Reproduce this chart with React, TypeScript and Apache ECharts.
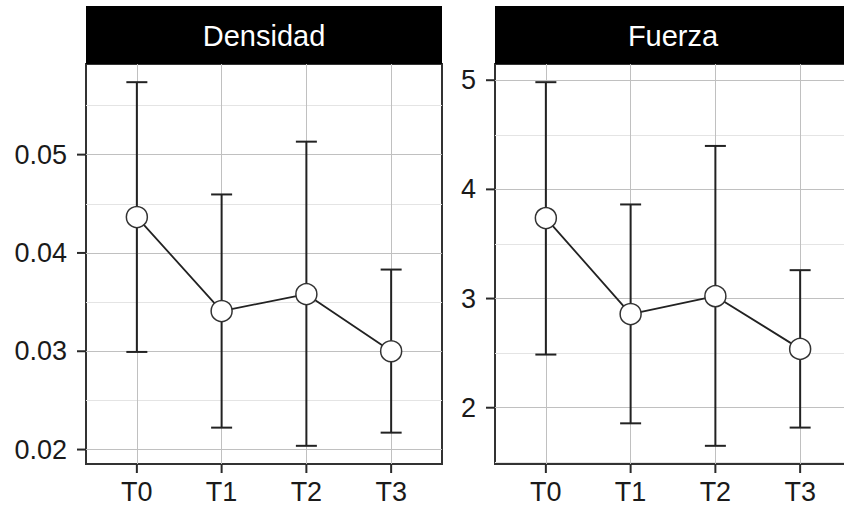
import React, { useEffect, useRef } from "react";
import * as echarts from "echarts";

const categories = ["T0", "T1", "T2", "T3"];
const panelTitles = ["Densidad", "Fuerza"];

const densidadMean = [0.04365, 0.03409, 0.03581, 0.03];
const densidadLower = [0.02993, 0.02223, 0.02038, 0.02172];
const densidadUpper = [0.05737, 0.04595, 0.05132, 0.03831];
const densidadTicks = [0.02, 0.03, 0.04, 0.05];
const densidadMinor = [0.025, 0.035, 0.045, 0.055];

const fuerzaMean = [3.737, 2.858, 3.022, 2.539];
const fuerzaLower = [2.487, 1.857, 1.651, 1.818];
const fuerzaUpper = [4.982, 3.862, 4.398, 3.26];
const fuerzaTicks = [2, 3, 4, 5];
const fuerzaMinor = [1.5, 2.5, 3.5, 4.5];

const FONT = "'Liberation Sans', Arial, sans-serif";
const PANEL_TOP = 64;
const PANEL_H = 400;
const PANEL_W = 356;
const LEFTS = [86, 495];
const STRIP_TOP = 6;
const TICK_LEN = 9;

function expand(lo: number[], hi: number[]) {
  const mn = Math.min(...lo);
  const mx = Math.max(...hi);
  const r = mx - mn;
  return [mn - 0.05 * r, mx + 0.05 * r];
}

export default function App() {
  const ref = useRef<HTMLDivElement>(null);
  useEffect(() => {
    if (!ref.current) return;
    const chart = echarts.init(ref.current, null, { renderer: "svg" });
    const panels = [
      { mean: densidadMean, lo: densidadLower, hi: densidadUpper, ticks: densidadTicks, minor: densidadMinor, fmt: (v: number) => v.toFixed(2) },
      { mean: fuerzaMean, lo: fuerzaLower, hi: fuerzaUpper, ticks: fuerzaTicks, minor: fuerzaMinor, fmt: (v: number) => String(v) },
    ];
    const grid: any[] = [];
    const xAxis: any[] = [];
    const yAxis: any[] = [];
    const series: any[] = [];
    const graphic: any[] = [];
    const xMin = -0.6;
    const xMax = categories.length - 0.4;
    panels.forEach((p, i) => {
      grid.push({
        left: LEFTS[i], top: PANEL_TOP, width: PANEL_W, height: PANEL_H,
        show: true, borderColor: "#333", borderWidth: 2, backgroundColor: "transparent",
      });
      const [ymin, ymax] = expand(p.lo, p.hi);
      xAxis.push({
        type: "value", gridIndex: i, min: xMin, max: xMax, position: "bottom",
        axisLine: { show: false, onZero: false },
        axisTick: { show: false, customValues: categories.map((_, k) => k) },
        axisLabel: { show: true, margin: 14, color: "#1a1a1a", fontSize: 27, fontFamily: FONT, customValues: categories.map((_, k) => k), formatter: (v: number) => categories[Math.round(v)] ?? "" },
        splitLine: { show: true, lineStyle: { color: "#c0c0c0", width: 1 } },
      });
      yAxis.push({
        type: "value", gridIndex: i, min: ymin, max: ymax, position: "left",
        axisLine: { show: false, onZero: false },
        axisTick: { show: false, customValues: p.ticks },
        axisLabel: { show: true, margin: 19, color: "#1a1a1a", fontSize: 27, fontFamily: FONT, customValues: p.ticks, formatter: p.fmt },
        splitLine: { show: true, lineStyle: { color: "#c0c0c0", width: 1 } },
      });
      yAxis.push({
        type: "value", gridIndex: i, min: ymin, max: ymax, position: "left",
        axisLine: { show: false, onZero: false }, axisTick: { show: false, customValues: p.minor },
        axisLabel: { show: false, customValues: p.minor },
        splitLine: { show: true, lineStyle: { color: "#e4e4e4", width: 1 } },
      });
      series.push({
        type: "custom", xAxisIndex: i, yAxisIndex: i * 2, z: 3, clip: false,
        data: categories.map((_, k) => [k, p.lo[k], p.hi[k]]),
        encode: { x: 0, y: [1, 2] },
        renderItem: (params: any, api: any) => {
          const x = api.value(0);
          const a = api.coord([x, api.value(1)]);
          const b = api.coord([x, api.value(2)]);
          const hw = 10.5;
          const style = { stroke: "#222", lineWidth: 2 };
          return {
            type: "group",
            children: [
              { type: "line", shape: { x1: a[0], y1: a[1], x2: b[0], y2: b[1] }, style },
              { type: "line", shape: { x1: a[0] - hw, y1: a[1], x2: a[0] + hw, y2: a[1] }, style },
              { type: "line", shape: { x1: b[0] - hw, y1: b[1], x2: b[0] + hw, y2: b[1] }, style },
            ],
          };
        },
      });
      series.push({
        type: "line", xAxisIndex: i, yAxisIndex: i * 2, z: 4,
        data: categories.map((_, k) => [k, p.mean[k]]),
        lineStyle: { color: "#222", width: 1.8 },
        symbol: "circle", symbolSize: 21,
        itemStyle: { color: "#ffffff", borderColor: "#333", borderWidth: 1.5 },
      });
      graphic.push({
        type: "rect", shape: { x: LEFTS[i], y: STRIP_TOP, width: PANEL_W, height: PANEL_TOP - STRIP_TOP },
        style: { fill: "#000" },
      });
      graphic.push({
        type: "text", x: LEFTS[i] + PANEL_W / 2, y: (STRIP_TOP + PANEL_TOP) / 2 + 1,
        style: { text: panelTitles[i], fill: "#fff", font: `29px ${FONT}`, textAlign: "center", textVerticalAlign: "middle" },
      });
      // outside tick marks, positioned with the same linear mapping as the axes
      p.ticks.forEach((v) => {
        const py = PANEL_TOP + ((ymax - v) / (ymax - ymin)) * PANEL_H;
        graphic.push({
          type: "rect", shape: { x: LEFTS[i] - TICK_LEN, y: py - 1, width: TICK_LEN, height: 2 },
          style: { fill: "#2a2a2a" },
        });
      });
      categories.forEach((_, k) => {
        const px = LEFTS[i] + ((k - xMin) / (xMax - xMin)) * PANEL_W;
        graphic.push({
          type: "rect", shape: { x: px - 1, y: PANEL_TOP + PANEL_H, width: 2, height: TICK_LEN },
          style: { fill: "#2a2a2a" },
        });
      });
    });
    chart.setOption({ animation: false, backgroundColor: "#fff", grid, xAxis, yAxis, series, graphic });
    return () => chart.dispose();
  }, []);
  return (
    <div style={{ position: "fixed", left: 0, top: 0, width: 844, height: 506, overflow: "hidden", background: "#fff" }}>
      <div ref={ref} style={{ width: 870, height: 506 }} />
    </div>
  );
}
